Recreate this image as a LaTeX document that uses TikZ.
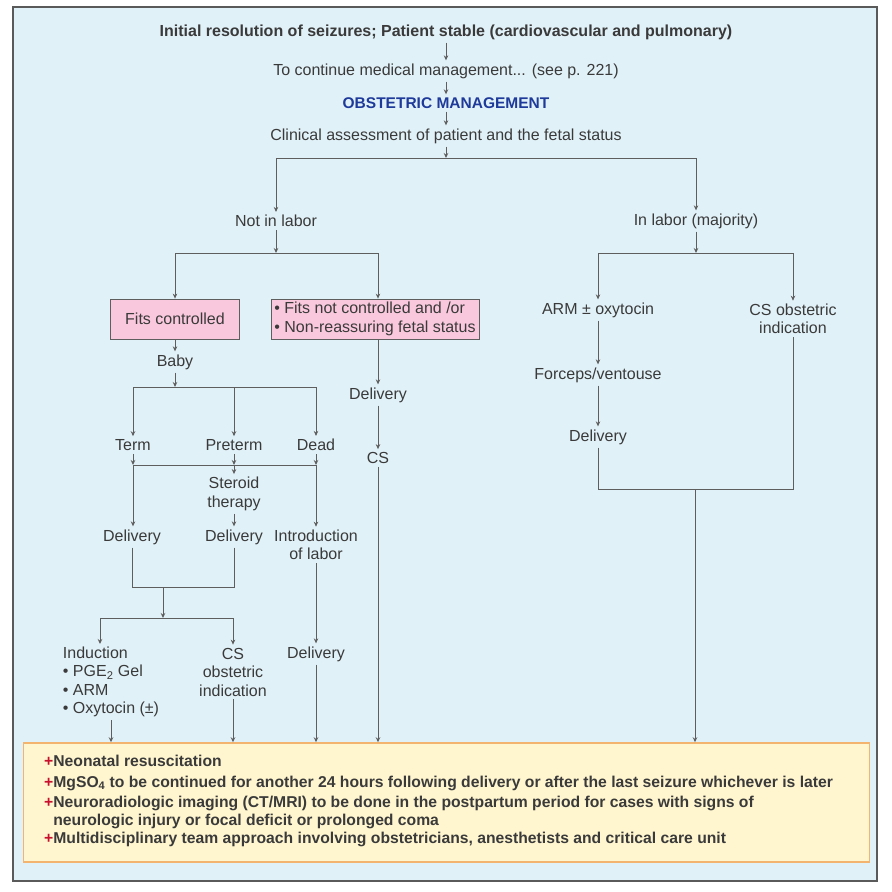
\documentclass[tikz,border=0pt]{standalone}
\usepackage{fontspec}
\setmainfont{Liberation Sans}
\usetikzlibrary{arrows.meta}

\definecolor{framebg}{HTML}{E1F1F8}
\definecolor{framedraw}{HTML}{5A5A5A}
\definecolor{fitpink}{HTML}{F9C8DC}
\definecolor{notesfill}{HTML}{FFF6CF}
\definecolor{notesdraw}{HTML}{F2B46E}
\definecolor{txtgray}{HTML}{3A3A3A}
\definecolor{linegray}{HTML}{5E5E5E}
\definecolor{obstblue}{HTML}{1E3A9A}
\definecolor{plusred}{HTML}{C8102E}

\tikzset{
	lbl/.style={text=txtgray, font=\fontsize{16}{18.5}\selectfont, inner sep=3pt, align=center},
	headlbl/.style={lbl, font=\bfseries\fontsize{16}{18.5}\selectfont},
	pinkbox/.style={lbl, draw=linegray, fill=fitpink, minimum height=40pt, line width=0.8pt},
	noteline/.style={text=txtgray, font=\bfseries\fontsize{15.7}{18}\selectfont, inner sep=0pt, anchor=west, align=left},
	link/.style={draw=linegray, line width=1pt},
	arr/.style={link, -{Stealth[length=5pt,width=4.5pt]}},
}

\begin{document}
\begin{tikzpicture}[x=1pt, y=-1pt]
	\useasboundingbox (0,0) rectangle (892,892);
	\draw[framedraw, fill=framebg, line width=2pt] (12.5,6.5) rectangle (877,881);

	% top of the chart
	\node[headlbl] (init) at (446,32) {Initial resolution of seizures; Patient stable (cardiovascular and pulmonary)};
	\node[lbl] (medmgmt) at (446,71) {To continue medical management... (see p. 221)};
	\node[lbl, text=obstblue, font=\bfseries\fontsize{15.5}{18}\selectfont] (obst) at (446,103) {OBSTETRIC MANAGEMENT};
	\node[lbl] (clin) at (446,136) {Clinical assessment of patient and the fetal status};
	\node[lbl] (notlabor) at (276,221) {Not in labor};
	\node[lbl] (inlabor) at (696,221) {In labor (majority)};

	% not in labor
	\node[pinkbox, minimum width=129pt] (fitsok) at (175,319) {Fits controlled};
	\node[pinkbox, minimum width=208pt, align=left] (fitsnot) at (375,319) {• Fits not controlled and /or\\• Non-reassuring fetal status};
	\node[lbl] (baby) at (175,362) {Baby};
	\node[lbl] (term) at (133,445) {Term};
	\node[lbl] (preterm) at (234,445) {Preterm};
	\node[lbl] (dead) at (316,445) {Dead};
	\node[lbl] (steroid) at (234,494) {Steroid\\therapy};
	\node[lbl] (delterm) at (132,537) {Delivery};
	\node[lbl] (delpre) at (234,537) {Delivery};
	\node[lbl] (intro) at (316,545) {Introduction\\of labor};
	\node[lbl, align=left] (induction) at (111,682) {Induction\\• PGE\textsubscript{2} Gel\\• ARM\\• Oxytocin (±)};
	\node[lbl] (csind) at (233,672) {CS\\obstetric\\indication};
	\node[lbl] (delintro) at (316,654) {Delivery};
	\node[lbl] (delnot) at (378,395) {Delivery};
	\node[lbl] (csnot) at (378,458) {CS};

	% in labor
	\node[lbl] (arm) at (598,310) {ARM ± oxytocin};
	\node[lbl] (cslab) at (793,319) {CS obstetric\\indication};
	\node[lbl] (forceps) at (598,375) {Forceps/ventouse};
	\node[lbl] (dellab) at (598,437) {Delivery};

	% yellow box at the bottom
	\node[draw=notesdraw, fill=notesfill, line width=1.5pt, minimum width=846pt, minimum height=119pt, inner sep=0pt] (notes) at (446.5,802.5) {};
	\node[noteline] (item1) at (44,761) {\textcolor{plusred}{+}Neonatal resuscitation};
	\node[noteline] (item2) at (44,783) {\textcolor{plusred}{+}MgSO\textsubscript{4} to be continued for another 24 hours following delivery or after the last seizure whichever is later};
	\node[noteline] (item3) at (44,812) {\textcolor{plusred}{+}Neuroradiologic imaging (CT/MRI) to be done in the postpartum period for cases with signs of\\\phantom{+}neurologic injury or focal deficit or prolonged coma};
	\node[noteline] (item4) at (44,839) {\textcolor{plusred}{+}Multidisciplinary team approach involving obstetricians, anesthetists and critical care unit};

	% junctions
	\coordinate (cj) at (446,158);
	\coordinate (nj) at (276,253);
	\coordinate (ij) at (696,253);
	\coordinate (bj) at (175,387);
	\coordinate (tb) at (133,465);
	\coordinate (pb) at (234,465);
	\coordinate (db) at (316,465);
	\coordinate (dj) at (163,587);
	\coordinate (ej) at (163,618);
	\coordinate (indin) at (100,644);
	\coordinate (lj) at (695,489);

	\draw[arr] (init) -- (medmgmt);
	\draw[arr] (medmgmt) -- (obst);
	\draw[arr] (obst) -- (clin);
	\draw[arr] (clin) -- (cj);
	\draw[arr] (cj) -| (notlabor);
	\draw[arr] (cj) -| (inlabor);
	\draw[arr] (notlabor) -- (nj);
	\draw[arr] (nj) -| (fitsok);
	\draw[arr] (nj) -| (fitsnot.north -| delnot);
	\draw[arr] (inlabor) -- (ij);
	\draw[arr] (ij) -| (arm);
	\draw[arr] (ij) -| (cslab);

	\draw[arr] (fitsok) -- (baby);
	\draw[arr] (baby) -- (bj);
	\draw[arr] (bj) -| (term);
	\draw[arr] (bj) -| (preterm);
	\draw[arr] (bj) -| (dead);
	\draw[link] (tb) -- (db);
	\draw[arr] (term) -- (tb);
	\draw[arr] (preterm) -- (pb);
	\draw[arr] (dead) -- (db);
	\draw[arr] (tb) -- (tb |- delterm.north);
	\draw[arr] (pb) -- (steroid);
	\draw[arr] (db) -- (intro);
	\draw[arr] (steroid) -- (delpre);
	\draw[link] (delterm) |- (dj);
	\draw[link] (delpre) |- (dj);
	\draw[arr] (dj) -- (ej);
	\draw[arr] (ej) -| (indin);
	\draw[arr] (ej) -| (csind);
	\draw[arr] (intro) -- (delintro);

	\draw[arr] (fitsnot.south -| delnot) -- (delnot);
	\draw[arr] (delnot) -- (csnot);

	\draw[arr] (arm) -- (forceps);
	\draw[arr] (forceps) -- (dellab);
	\draw[link] (dellab) |- (lj);
	\draw[link] (cslab) |- (lj);

	% into the yellow box
	\draw[arr] (induction) -- (induction |- notes.north);
	\draw[arr] (csind) -- (csind |- notes.north);
	\draw[arr] (delintro) -- (delintro |- notes.north);
	\draw[arr] (csnot) -- (csnot |- notes.north);
	\draw[arr] (lj) -- (lj |- notes.north);
\end{tikzpicture}
\end{document}
